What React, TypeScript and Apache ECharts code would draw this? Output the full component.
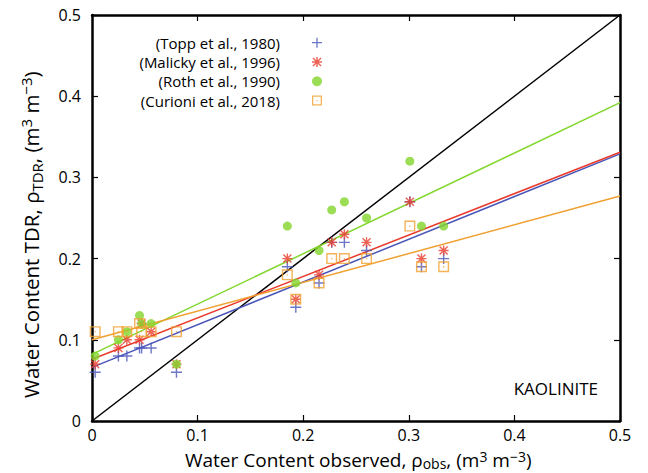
import React, { useEffect, useRef } from "react";
import * as echarts from "echarts";

// Observed water content (x) shared by all models
const observed = [0.003, 0.025, 0.033, 0.045, 0.047, 0.056, 0.08, 0.185, 0.193, 0.215, 0.227, 0.239, 0.26, 0.301, 0.312, 0.333];
// Predicted TDR water content per model
const topp = [0.06, 0.08, 0.08, 0.09, 0.09, 0.09, 0.06, 0.19, 0.14, 0.17, 0.22, 0.22, 0.21, 0.27, 0.19, 0.2];
const malicky = [0.07, 0.09, 0.1, 0.1, 0.12, 0.11, 0.07, 0.2, 0.15, 0.18, 0.22, 0.23, 0.22, 0.27, 0.2, 0.21];
const roth = [0.08, 0.1, 0.11, 0.13, 0.12, 0.12, 0.07, 0.24, 0.17, 0.21, 0.26, 0.27, 0.25, 0.32, 0.24, 0.24];
const curioni = [0.11, 0.11, 0.11, 0.12, 0.11, 0.11, 0.11, 0.18, 0.15, 0.17, 0.2, 0.2, 0.2, 0.24, 0.19, 0.19];

// Linear fit lines evaluated at the axis ends
const fitX = [0, 0.5];
const toppFit = [0.066, 0.329];
const malickyFit = [0.076, 0.331];
const rothFit = [0.082, 0.392];
const curioniFit = [0.1, 0.277];
const oneToOne = [0, 0.5];

const seriesNames = ["(Topp et al., 1980)", "(Malicky et al., 1996)", "(Roth et al., 1990)", "(Curioni et al., 2018)"];
const colors = ["#4a55b8", "#e8392b", "#82d62c", "#f0a030"];

const FONT = "Open Sans";

const PLUS = "path://M4.35,0H5.65V4.35H10V5.65H5.65V10H4.35V5.65H0V4.35H4.35Z";
const STAR =
  "path://M0,4.3H10V5.7H0Z M4.3,0H5.7V10H4.3Z M1.5,0.5L9.5,8.5L8.5,9.5L0.5,1.5Z M8.5,0.5L9.5,1.5L1.5,9.5L0.5,8.5Z";
const SQUARE = "path://M0,0H10V10H0Z M1.3,1.3V8.7H8.7V1.3Z M4.4,4.4H5.6V5.6H4.4Z";

const pairs = (xs: number[], ys: number[]) => xs.map((x, i) => [x, ys[i]]);

export default function App() {
  const ref = useRef<HTMLDivElement>(null);
  useEffect(() => {
    if (!ref.current) return;
    const chart = echarts.init(ref.current, undefined, { renderer: "svg" });
    const tickFmt = (v: number) => (v === 0 ? "0" : v.toFixed(1));
    const axisCommon = {
      type: "value" as const,
      min: 0,
      max: 0.5,
      interval: 0.1,
      splitLine: { show: false },
      axisLine: { show: true, onZero: false, lineStyle: { color: "#000", width: 2.5 } },
      axisTick: { show: true, inside: true, length: 6, lineStyle: { color: "#000", width: 1.2 } },
    };
    const scatterCommon = { type: "scatter" as const, symbolKeepAspect: true, z: 3 };
    const lineCommon = { type: "line" as const, showSymbol: false, symbol: "none", z: 2, silent: true };
    const richFor = (size: number, down: number, up: number) => ({
      sub: { fontSize: size, fontFamily: FONT, padding: [down, 0, 0, 0] },
      sup: { fontSize: size, fontFamily: FONT, padding: [0, 0, up, 0] },
    });
    chart.setOption({
      animation: false,
      backgroundColor: "#fff",
      grid: { left: 92, right: 28, top: 15, bottom: 52, containLabel: false },
      xAxis: [
        {
          ...axisCommon,
          position: "bottom",
          axisLabel: { formatter: tickFmt, fontFamily: FONT, fontSize: 16, color: "#000", margin: 6 },
        },
        { ...axisCommon, position: "top", axisLabel: { show: false } },
      ],
      yAxis: [
        {
          ...axisCommon,
          position: "left",
          axisLabel: { formatter: tickFmt, fontFamily: FONT, fontSize: 16, color: "#000", margin: 11 },
        },
        { ...axisCommon, position: "right", axisLabel: { show: false } },
      ],
      legend: {
        orient: "vertical",
        align: "right",
        right: 326,
        top: 33,
        padding: 0,
        itemGap: 0,
        itemWidth: 10,
        itemHeight: 10,
        data: seriesNames,
        textStyle: { fontFamily: FONT, fontSize: 15, color: "#000", lineHeight: 19.3, padding: [0, 27, 0, 0] },
      },
      graphic: [
        {
          type: "text",
          x: 185,
          y: 460,
          style: {
            text: "Water Content observed, ρ{sub|obs}, (m{sup|3} m{sup|−3})",
            fill: "#000",
            font: `19px "${FONT}"`,
            textAlign: "left",
            textVerticalAlign: "middle",
            rich: richFor(14, 7, 8),
          },
        },
        {
          type: "text",
          x: 31,
          y: 398,
          rotation: Math.PI / 2,
          style: {
            text: "Water Content TDR, ρ{sub|TDR}, (m{sup|3} m{sup|−3})",
            fill: "#000",
            font: `20.5px "${FONT}"`,
            textAlign: "left",
            textVerticalAlign: "middle",
            rich: richFor(15, 11, 11),
          },
        },
        {
          type: "text",
          x: 598,
          y: 388,
          style: {
            text: "KAOLINITE",
            fill: "#000",
            font: `17px "${FONT}"`,
            textAlign: "right",
            textVerticalAlign: "middle",
          },
        },
      ],
      series: [
        {
          ...lineCommon,
          name: "1:1",
          data: pairs(oneToOne, oneToOne),
          lineStyle: { color: "#000", width: 1.5 },
        },
        { ...lineCommon, name: "toppFit", data: pairs(fitX, toppFit), lineStyle: { color: colors[0], width: 1.5 } },
        { ...lineCommon, name: "malickyFit", data: pairs(fitX, malickyFit), lineStyle: { color: colors[1], width: 1.5 } },
        { ...lineCommon, name: "rothFit", data: pairs(fitX, rothFit), lineStyle: { color: colors[2], width: 1.5 } },
        { ...lineCommon, name: "curioniFit", data: pairs(fitX, curioniFit), lineStyle: { color: colors[3], width: 1.5 } },
        {
          ...scatterCommon,
          name: seriesNames[0],
          symbol: PLUS,
          symbolSize: 11,
          itemStyle: { color: colors[0] },
          data: pairs(observed, topp),
        },
        {
          ...scatterCommon,
          name: seriesNames[1],
          symbol: STAR,
          symbolSize: 10,
          itemStyle: { color: colors[1] },
          data: pairs(observed, malicky),
        },
        {
          ...scatterCommon,
          name: seriesNames[2],
          symbol: "circle",
          symbolSize: 9,
          itemStyle: { color: colors[2] },
          data: pairs(observed, roth),
        },
        {
          ...scatterCommon,
          name: seriesNames[3],
          symbol: SQUARE,
          symbolSize: 11,
          itemStyle: { color: colors[3] },
          data: pairs(observed, curioni),
        },
      ],
    });
    return () => chart.dispose();
  }, []);
  return <div ref={ref} style={{ width: 648, height: 473, position: "absolute", left: 0, top: 0 }} />;
}
